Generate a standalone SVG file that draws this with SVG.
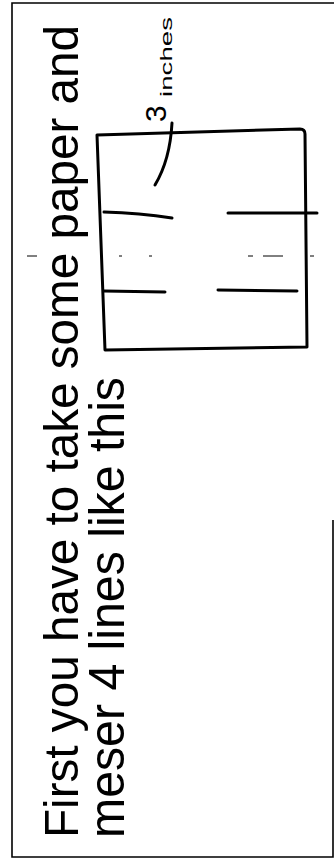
<svg xmlns="http://www.w3.org/2000/svg" width="334" height="865" viewBox="0 0 334 865">
<style>
.ink{fill:none;stroke:#000;stroke-width:3;stroke-linecap:round;stroke-linejoin:round}
.thin{fill:none;stroke:#000;stroke-width:1.6}
.hand{font-family:"Liberation Sans","DejaVu Sans",sans-serif;fill:#000}
.fold{stroke:#000;stroke-width:1;fill:none}
</style>
<rect width="334" height="865" fill="#fff"/>
<g id="frame">
<path class="thin" d="M334,3 L12,3 L12,857 L333,857 L333,520"/>
</g>
<g id="fold">
<path class="fold" d="M27,256 H37 M119,256 H122 M149,256 H152 M248,256 H253 M263,256 H283 M310,256 H314"/>
</g>
<g id="caption">
<text class="hand" font-size="49" transform="translate(78,838) rotate(-90)" textLength="813" lengthAdjust="spacingAndGlyphs">First you have to take some paper and</text>
<text class="hand" font-size="50" transform="translate(124,838) rotate(-90)" textLength="461" lengthAdjust="spacingAndGlyphs">meser 4 lines like this</text>
</g>
<g id="paper">
<path class="ink" d="M97,135 L300,129 Q305,129 305,134 L307,347 L105,350 L97,135 Z"/>
<path class="ink" d="M104,212 Q140,213 172,218"/>
<path class="ink" d="M228,213 L317,213"/>
<path class="ink" d="M104,291 L165,292"/>
<path class="ink" d="M218,290 L297,291"/>
</g>
<g id="label">
<text class="hand" font-size="30" transform="translate(166,122) rotate(-90)">3</text>
<text class="hand" font-size="17" transform="translate(172,97) rotate(-90)" textLength="80" lengthAdjust="spacingAndGlyphs">inches</text>
</g>
<g id="connectors">
<path class="ink" d="M155,185 Q170,160 172,123"/>
</g>
</svg>
